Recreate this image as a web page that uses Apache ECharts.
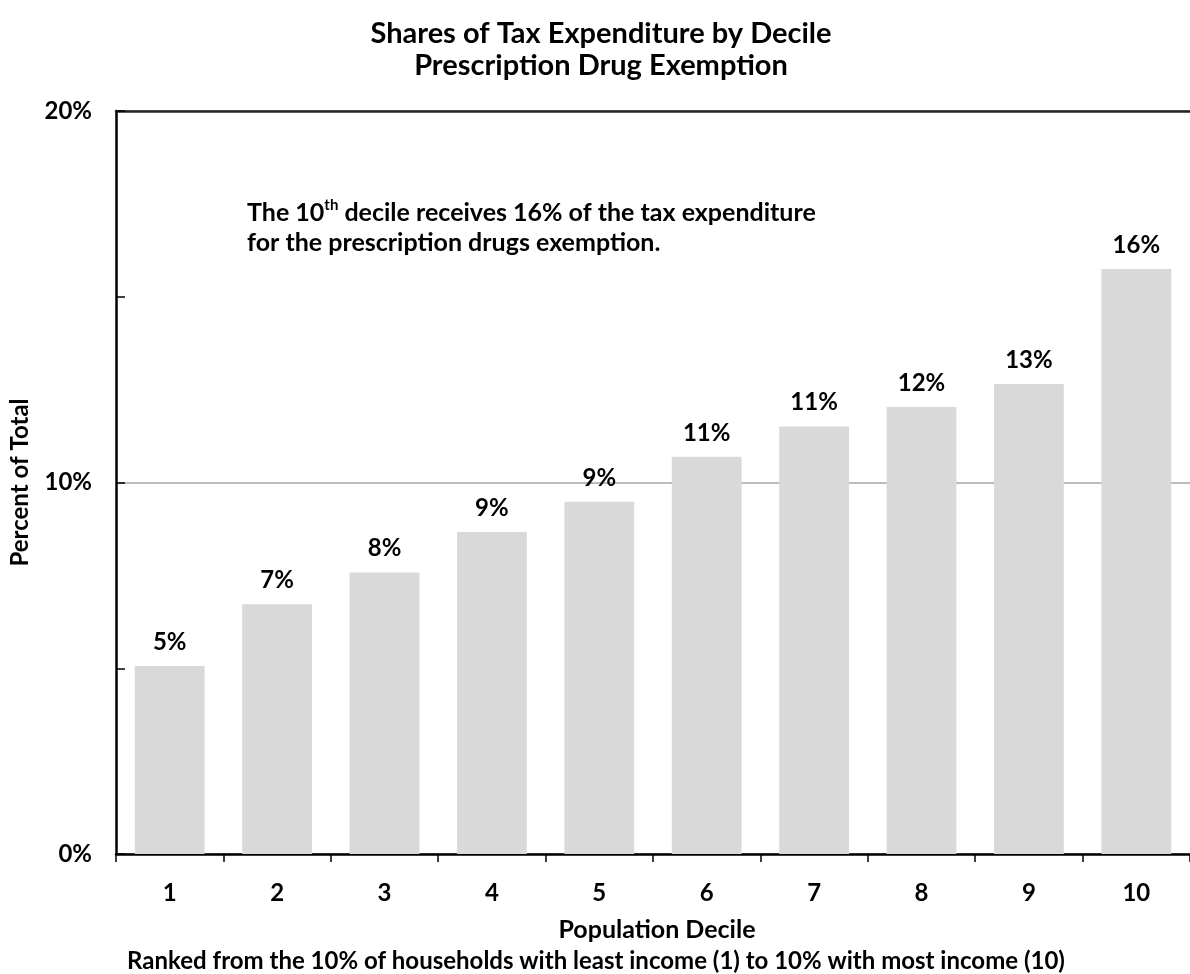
<!DOCTYPE html>
<html>
<head>
<meta charset="utf-8">
<script src="https://cdn.jsdelivr.net/npm/echarts@6/dist/echarts.min.js"></script>
<style>
  html, body { margin: 0; padding: 0; background: #fff; }
  #chart { width: 1190px; height: 974px; }
</style>
</head>
<body>
<div id="chart"></div>
<script>
// population deciles
const deciles = ["1", "2", "3", "4", "5", "6", "7", "8", "9", "10"];
// share of tax expenditure (%)
const shares = [5.06, 6.72, 7.58, 8.67, 9.48, 10.69, 11.51, 12.03, 12.65, 15.75];
// labels printed above the bars
const shareLabels = ["5%", "7%", "8%", "9%", "9%", "11%", "11%", "12%", "13%", "16%"];
const yTicks = [0, 10, 20];

const font = "Lato, 'Open Sans', sans-serif";

const chart = echarts.init(document.getElementById("chart"));

const option = {
  backgroundColor: "#fff",
  animation: false,
  title: {
    text: "Shares of Tax Expenditure by Decile\nPrescription Drug Exemption",
    left: 596,
    top: 13,
    textAlign: "center",
    textStyle: {
      fontFamily: font,
      fontWeight: "bold",
      fontSize: 29,
      lineHeight: 32,
      color: "#000"
    }
  },
  grid: {
    left: 113,
    top: 111,
    width: 1086,
    height: 743,
    containLabel: false
  },
  xAxis: [
    {
      type: "category",
      data: deciles,
      axisLine: { lineStyle: { color: "#000", width: 2.5 } },
      axisTick: { show: true, length: 8, lineStyle: { color: "#000", width: 1.5 } },
      axisLabel: {
        margin: 27,
        fontFamily: font,
        fontWeight: "bold",
        fontSize: 24,
        color: "#000"
      }
    },
    {
      type: "category",
      data: deciles,
      position: "top",
      axisLine: { lineStyle: { color: "#222", width: 2.5 } },
      axisTick: { show: false },
      axisLabel: { show: false }
    }
  ],
  yAxis: {
    type: "value",
    min: yTicks[0],
    max: yTicks[yTicks.length - 1],
    interval: 10,
    name: "Percent of Total",
    nameLocation: "middle",
    nameGap: 84,
    nameTextStyle: {
      fontFamily: font,
      fontWeight: "bold",
      fontSize: 24,
      color: "#000"
    },
    axisLine: { show: true, lineStyle: { color: "#000", width: 2.5 } },
    axisTick: { show: true, inside: true, length: 9, lineStyle: { color: "#000", width: 1.5 } },
    minorTick: { show: true, splitNumber: 2, length: 9, lineStyle: { color: "#000", width: 1.5 } },
    splitLine: { show: true, lineStyle: { color: "#a6a6a6", width: 1.5 } },
    axisLabel: {
      margin: 24,
      formatter: "{value}%",
      fontFamily: font,
      fontWeight: "bold",
      fontSize: 24,
      color: "#000"
    }
  },
  series: [
    {
      type: "bar",
      data: shares,
      barCategoryGap: "35%",
      itemStyle: { color: "#d9d9d9" },
      label: {
        show: true,
        position: "top",
        distance: 12,
        formatter: (p) => shareLabels[p.dataIndex],
        fontFamily: font,
        fontWeight: "bold",
        fontSize: 24,
        color: "#000"
      }
    }
  ],
  graphic: [
    {
      type: "text",
      left: 247,
      top: 198,
      style: {
        text: "The 10{sup|th} decile receives 16% of the tax expenditure\nfor the prescription drugs exemption.",
        fontFamily: font,
        fontWeight: "bold",
        fontSize: 25,
        lineHeight: 30,
        fill: "#000",
        rich: {
          sup: {
            fontFamily: font,
            fontWeight: "bold",
            fontSize: 15,
            lineHeight: 30,
            verticalAlign: "top",
            padding: [0, 0, 10, 0],
            fill: "#000"
          }
        }
      }
    },
    {
      type: "text",
      x: 657,
      y: 930,
      style: {
        text: "Population Decile",
        align: "center",
        verticalAlign: "middle",
        fontFamily: font,
        fontWeight: "bold",
        fontSize: 25,
        fill: "#000"
      }
    },
    {
      type: "text",
      x: 596,
      y: 961,
      style: {
        text: "Ranked from the 10% of households with least income (1) to 10% with most income (10)",
        align: "center",
        verticalAlign: "middle",
        fontFamily: font,
        fontWeight: "bold",
        fontSize: 24,
        fill: "#000"
      }
    }
  ]
};

chart.setOption(option);
</script>
</body>
</html>
